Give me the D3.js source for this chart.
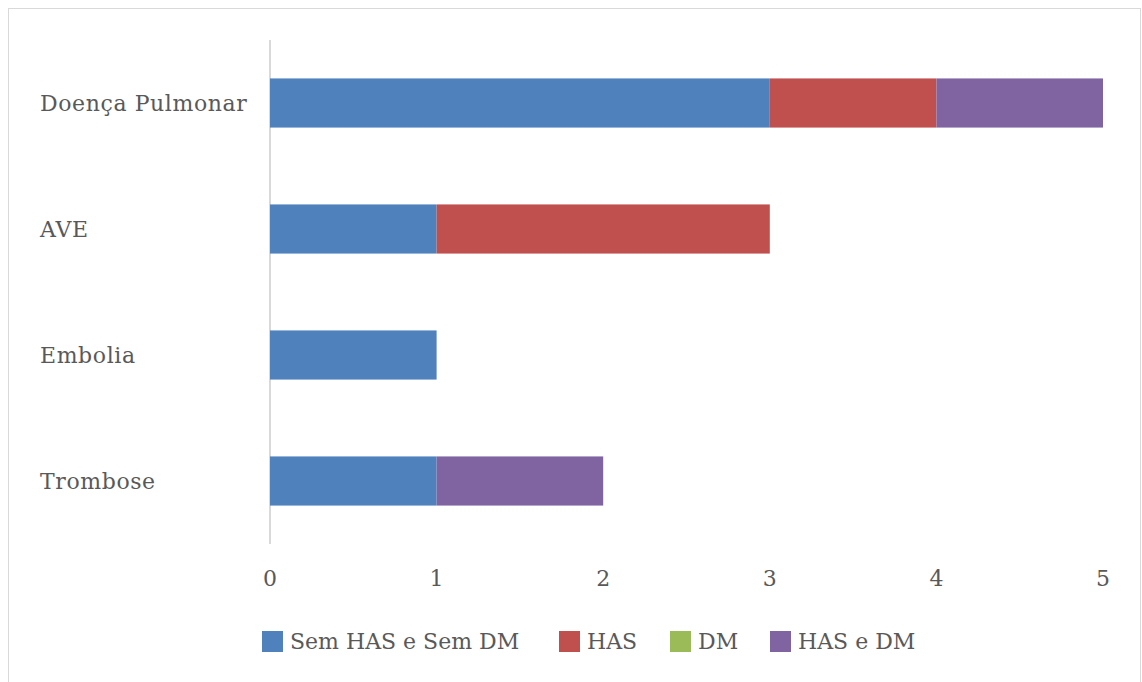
<!DOCTYPE html>
<html>
<head>
<meta charset="utf-8">
<script src="https://cdn.jsdelivr.net/npm/d3@7"></script>
<style>
  body { margin: 0; background: #fff; }
  text { font-family: "DejaVu Serif", serif; fill: #595959; }
</style>
</head>
<body>
<div id="chart"></div>
<script>
var categories = ["Doença Pulmonar", "AVE", "Embolia", "Trombose"];
var seriesNames = ["Sem HAS e Sem DM", "HAS", "DM", "HAS e DM"];
var seriesColors = ["#4f81bd", "#c0504d", "#9bbb59", "#8064a2"];
var semHasSemDm = [3, 1, 1, 1];
var has = [1, 2, 0, 0];
var dm = [0, 0, 0, 0];
var hasEDm = [1, 0, 0, 1];
var xTicks = [0, 1, 2, 3, 4, 5];

var rows = categories.map(function (c, i) {
  return { cat: c, "Sem HAS e Sem DM": semHasSemDm[i], "HAS": has[i], "DM": dm[i], "HAS e DM": hasEDm[i] };
});

var width = 1142, height = 682;
var svg = d3.select("#chart").append("svg")
            .attr("width", width)
            .attr("height", height);

svg.append("rect")
   .attr("x", 8.5).attr("y", 8.5)
   .attr("width", 1132).attr("height", 690)
   .style("fill", "#fff")
   .style("stroke", "#d9d9d9");

var x = d3.scaleLinear().domain([0, 5]).range([270, 1103]);
var y = d3.scaleBand().domain(categories).range([40, 544]).paddingInner(0.61).paddingOuter(0.305);

var stack = d3.stack().keys(seriesNames)(rows);

svg.append("line")
   .attr("x1", x(0)).attr("x2", x(0))
   .attr("y1", 40).attr("y2", 544)
   .style("stroke", "#d9d9d9").style("stroke-width", 2);

var layers = svg.selectAll("g.layer")
                .data(stack)
                .enter()
                .append("g")
                .attr("class", "layer")
                .style("fill", function (d, i) { return seriesColors[i]; });

layers.selectAll("rect")
      .data(function (d) { return d; })
      .enter()
      .append("rect")
      .attr("x", function (d) { return x(d[0]); })
      .attr("y", function (d) { return y(d.data.cat); })
      .attr("width", function (d) { return x(d[1]) - x(d[0]); })
      .attr("height", y.bandwidth());

// category labels, left aligned like the original
svg.selectAll("text.cat")
   .data(categories)
   .enter()
   .append("text")
   .attr("class", "cat")
   .attr("x", 40)
   .attr("y", function (d) { return y(d) + y.bandwidth() / 2; })
   .attr("dy", "0.35em")
   .style("font-size", "22px")
   .style("letter-spacing", "0.6px")
   .text(function (d) { return d; });

svg.selectAll("text.tick")
   .data(xTicks)
   .enter()
   .append("text")
   .attr("class", "tick")
   .attr("x", function (d) { return x(d); })
   .attr("y", 578)
   .attr("dy", "0.35em")
   .attr("text-anchor", "middle")
   .style("font-size", "22px")
   .text(function (d) { return d; });

var legendX = [262, 559, 670, 770];
var legend = svg.selectAll("g.legend")
                .data(seriesNames)
                .enter()
                .append("g")
                .attr("class", "legend")
                .attr("transform", function (d, i) { return "translate(" + legendX[i] + ",641)"; });

legend.append("rect")
      .attr("x", 0).attr("y", -10)
      .attr("width", 21).attr("height", 21)
      .style("fill", function (d, i) { return seriesColors[i]; });

legend.append("text")
      .attr("x", 28)
      .attr("dy", "0.35em")
      .style("font-size", "22px")
      .text(function (d) { return d; });
</script>
</body>
</html>
